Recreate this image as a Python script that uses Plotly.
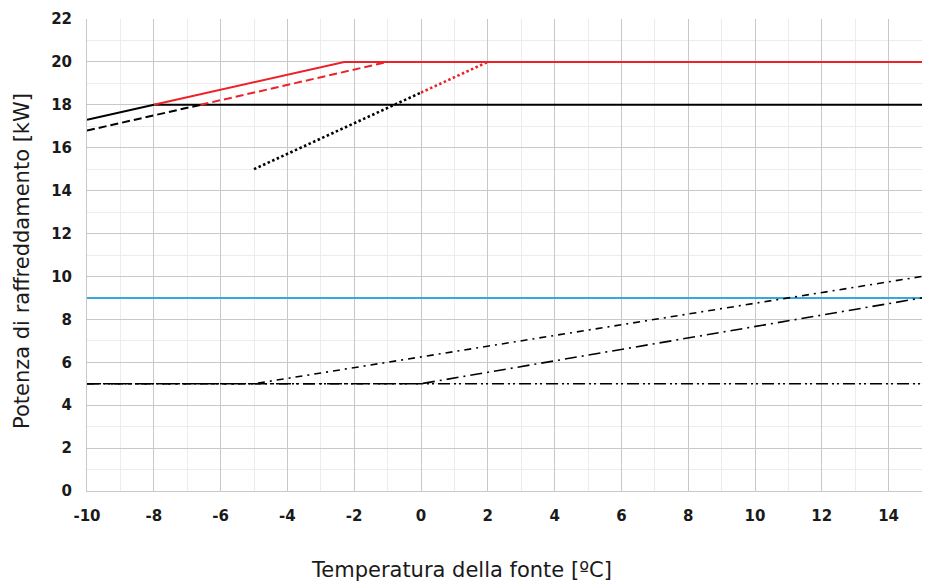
import plotly.graph_objects as go

# Cooling capacity curves vs source temperature
x_solid_black = [-10, -8, 15]
y_solid_black = [17.3, 18, 18]

x_solid_red = [-8, -2.3, 15]
y_solid_red = [18, 20, 20]

x_dash_black = [-10, -6.6]
y_dash_black = [16.8, 18]

x_dash_red = [-6.6, -1]
y_dash_red = [18, 20]

x_dot_black = [-5, 0]
y_dot_black = [15, 18.57]

x_dot_red = [0, 2]
y_dot_red = [18.57, 20]

x_blue = [-10, 15]
y_blue = [9, 9]

x_dashdotdot = [-10, 15]
y_dashdotdot = [5, 5]

x_dashdot = [-10, -5, 15]
y_dashdot = [5, 5, 10]

x_longdashdot = [-10, 0, 15]
y_longdashdot = [5, 5, 9]

x_ticks = list(range(-10, 15, 2))
y_ticks = list(range(0, 23, 2))

RED = "#ee2129"
BLUE = "#35a8e0"
BLACK = "#000000"

fig = go.Figure()

def add(x, y, color, width, dash):
    fig.add_trace(go.Scatter(x=x, y=y, mode="lines",
                             line=dict(color=color, width=width, dash=dash),
                             hoverinfo="skip"))

add(x_blue, y_blue, BLUE, 2, "solid")
add(x_dashdotdot, y_dashdotdot, BLACK, 1.6, "12px,4px,2px,3px,2px,4px")
add(x_dashdot, y_dashdot, BLACK, 1.6, "7px,5px,2px,5px")
add(x_longdashdot, y_longdashdot, BLACK, 1.6, "12px,5px,2px,5px")
add(x_solid_black, y_solid_black, BLACK, 2, "solid")
add(x_dash_black, y_dash_black, BLACK, 2, "8px,4px")
add(x_dot_black, y_dot_black, BLACK, 2.6, "2.5px,2.5px")
add(x_solid_red, y_solid_red, RED, 2, "solid")
add(x_dash_red, y_dash_red, RED, 2, "8px,4px")
add(x_dot_red, y_dot_red, RED, 2.6, "2.5px,2.5px")

tick_font = dict(family="DejaVu Sans", size=15, color="#1a1a1a", weight="bold")
title_font = dict(family="DejaVu Sans", size=21, color="#1a1a1a")

fig.update_layout(
    width=930, height=583,
    margin=dict(l=87, r=8, t=19, b=92),
    paper_bgcolor="white", plot_bgcolor="white",
    showlegend=False,
    xaxis=dict(
        range=[-10, 15], tickmode="array", tickvals=x_ticks,
        ticktext=[str(v) for v in x_ticks],
        tickfont=tick_font, ticks="", ticklabelstandoff=11,
        showgrid=True, gridcolor="#c8c8c8", gridwidth=1,
        minor=dict(dtick=1, tick0=-10, showgrid=True, gridcolor="#ececec", gridwidth=1),
        zeroline=False, showline=True, linecolor="#c8c8c8", linewidth=1,
    ),
    yaxis=dict(
        range=[0, 22], tickmode="array", tickvals=y_ticks,
        ticktext=[str(v) for v in y_ticks],
        tickfont=tick_font, ticks="", ticklabelstandoff=11,
        showgrid=True, gridcolor="#c8c8c8", gridwidth=1,
        minor=dict(dtick=1, tick0=0, showgrid=True, gridcolor="#ececec", gridwidth=1),
        zeroline=False, showline=True, linecolor="#c8c8c8", linewidth=1,
    ),
    annotations=[
        dict(text="Temperatura della fonte [ºC]", font=title_font,
             xref="paper", yref="paper", x=0.449, y=-0.167,
             xanchor="center", yanchor="middle", showarrow=False),
        dict(text="Potenza di raffreddamento [kW]", font=title_font,
             xref="paper", yref="paper", x=-0.078, y=0.487, textangle=-90,
             xanchor="center", yanchor="middle", showarrow=False),
    ],
)

fig.write_html("out.html")
